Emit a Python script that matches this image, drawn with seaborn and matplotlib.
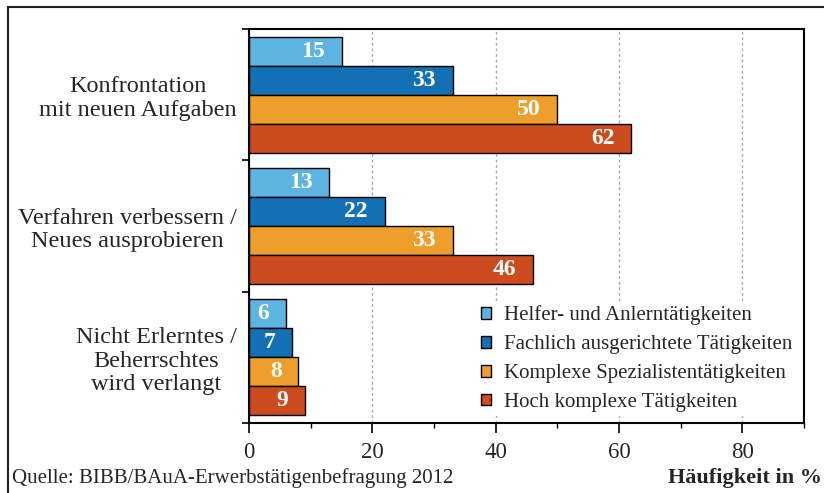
import matplotlib
matplotlib.use("Agg")
import matplotlib.pyplot as plt
from matplotlib.patches import Rectangle
from matplotlib.ticker import FixedLocator
import pandas as pd
import seaborn as sns

# data
categories = ["Konfrontation\nmit neuen Aufgaben",
              "Verfahren verbessern /\nNeues ausprobieren",
              "Nicht Erlerntes /\nBeherrschtes\nwird verlangt"]
groups = ["Helfer- und Anlerntätigkeiten",
          "Fachlich ausgerichtete Tätigkeiten",
          "Komplexe Spezialistentätigkeiten",
          "Hoch komplexe Tätigkeiten"]
helfer = [15, 13, 6]
fachlich = [33, 22, 7]
spezialist = [50, 33, 8]
hoch_komplex = [62, 46, 9]
colors = ["#5DB3E2", "#1470B5", "#EE9E2A", "#CC4B1F"]

rows = []
for grp, vals in zip(groups, [helfer, fachlich, spezialist, hoch_komplex]):
    for cat, v in zip(categories, vals):
        rows.append({"Kategorie": cat, "Gruppe": grp, "Wert": v})
df = pd.DataFrame(rows)

sns.set_theme(style="white")
plt.rcParams["font.family"] = ["Liberation Serif", "DejaVu Serif"]

W, H = 824, 493
fig = plt.figure(figsize=(W / 100, H / 100), dpi=100)
ax = fig.add_axes([249 / W, 1 - 423 / H, 555 / W, 394 / H])

sns.barplot(data=df, x="Wert", y="Kategorie", hue="Gruppe", order=categories,
            hue_order=groups, palette=colors, orient="h", width=0.884,
            edgecolor="black", linewidth=1, saturation=1, ax=ax)

# value labels inside the bar ends
for cont in ax.containers:
    for bar in cont:
        w = bar.get_width()
        yc = bar.get_y() + bar.get_height() / 2
        ax.annotate(f"{w:.0f}", (w, yc), xytext=(-12, 0), textcoords="offset points",
                    ha="right", va="center", color="white", fontsize=17,
                    fontweight="bold")

ax.set_xlim(0, 90)
ax.set_ylim(2.5, -0.5)
ax.xaxis.set_major_locator(FixedLocator([0, 20, 40, 60, 80]))
ax.xaxis.set_minor_locator(FixedLocator([10, 30, 50, 70, 90]))
ax.yaxis.set_minor_locator(FixedLocator([-0.5, 0.5, 1.5, 2.5]))
ax.tick_params(axis="x", which="major", direction="out", length=7, width=1.2,
               color="black", labelsize=16.5, pad=7, bottom=True)
ax.tick_params(axis="x", which="minor", direction="out", length=3.5, width=1,
               color="black", bottom=True)
ax.tick_params(axis="y", which="major", length=0, pad=9, labelsize=17.5)
ax.tick_params(axis="y", which="minor", direction="out", length=5, width=1.2,
               color="black", left=True)
for lbl in ax.get_yticklabels():
    lbl.set_multialignment("center")
    lbl.set_linespacing(1.15)
ax.set_xlabel("")
ax.set_ylabel("")
ax.grid(axis="x", which="major", color="#aaaaaa", linestyle=(0, (2, 2)), linewidth=1)
ax.set_axisbelow(True)
for sp in ax.spines.values():
    sp.set_visible(True)
    sp.set_color("black")
    sp.set_linewidth(1.5)
    sp.set_zorder(6)

handles, labels = ax.get_legend_handles_labels()
ax.legend(handles, labels, loc="upper left", bbox_to_anchor=(466 / W, 1 - 291 / H),
          bbox_transform=fig.transFigure, fontsize=15, frameon=True,
          facecolor="white", edgecolor="none", framealpha=1, fancybox=False,
          handlelength=0.5, handleheight=0.5, handletextpad=0.6,
          labelspacing=0.47, borderpad=0.2)

fig.text(12 / W, 1 - 478 / H, "Quelle: BIBB/BAuA-Erwerbstätigenbefragung 2012",
         ha="left", va="center", fontsize=15)
fig.text(822 / W, 1 - 478 / H, "Häufigkeit in %", ha="right", va="center",
         fontsize=16, fontweight="bold")

# outer frame, cut off at right and bottom like the source
fig.add_artist(Rectangle((8 / W, -0.1), 1.2, 1.1 - 7 / H, transform=fig.transFigure,
                         fill=False, edgecolor="#222222", linewidth=1.5, clip_on=False))

fig.savefig("out.png", dpi=100)
